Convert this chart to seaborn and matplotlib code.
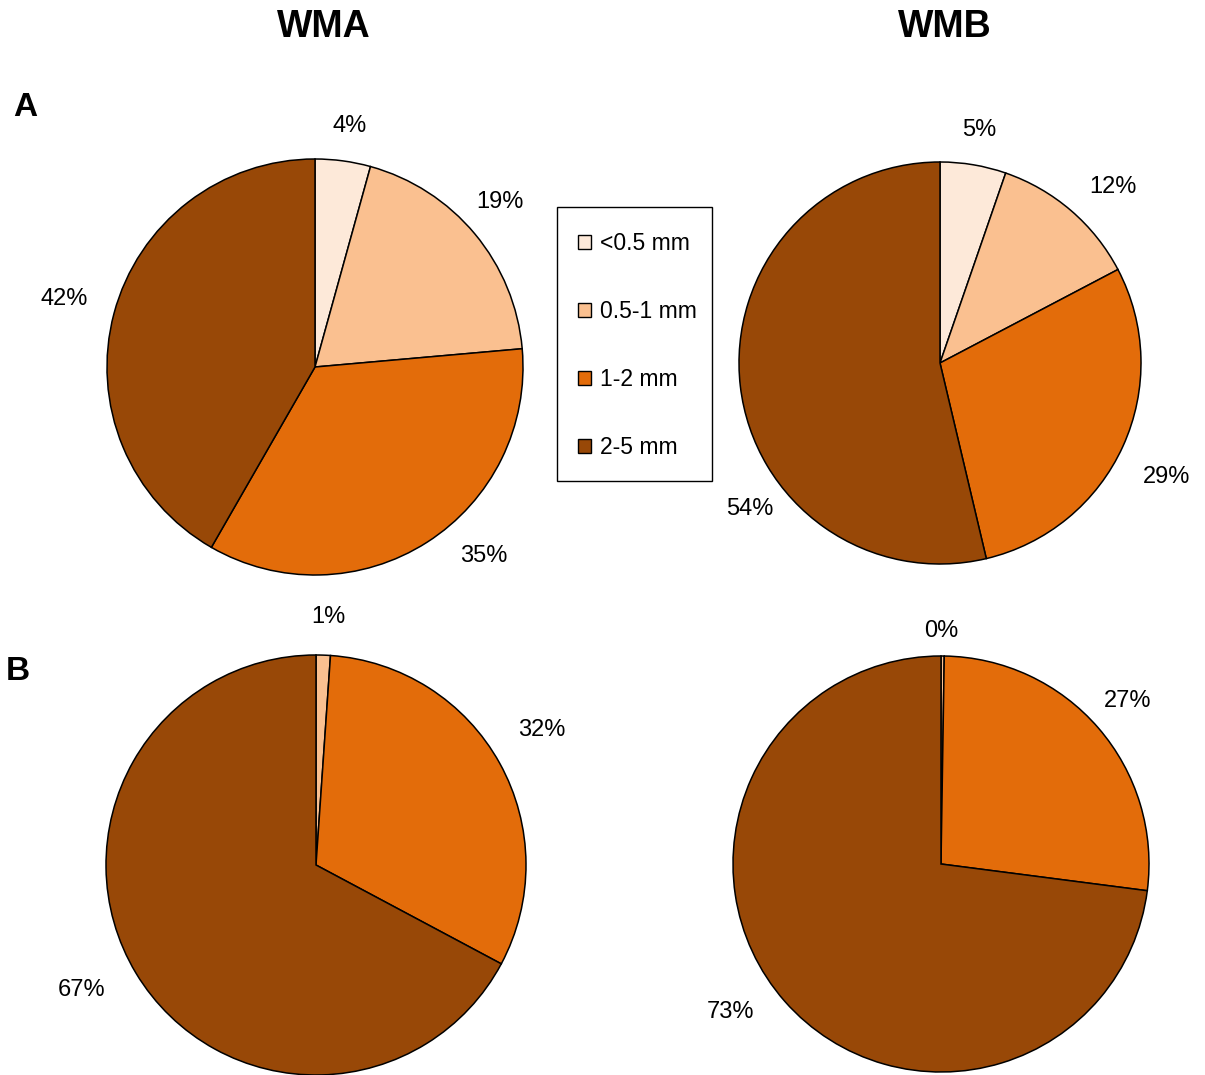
import matplotlib
matplotlib.use("Agg")
import matplotlib.pyplot as plt
from matplotlib.patches import Patch, Rectangle
import seaborn as sns

sns.set_theme(style="white")
plt.rcParams["font.family"] = ["Liberation Sans", "DejaVu Sans"]
plt.rcParams["text.color"] = "black"

# Size classes and their fill colours
classes = ["<0.5 mm", "0.5-1 mm", "1-2 mm", "2-5 mm"]
colors = ["#FDE9D9", "#FAC090", "#E36C0A", "#984807"]

# Percentage share of each size class
wma_a = [4.3, 19.3, 34.7, 41.7]
wmb_a = [5.3, 12.0, 29.0, 53.7]
wma_b = [0.0, 1.1, 31.7, 67.2]
wmb_b = [0.0, 0.25, 26.8, 72.95]

column_titles = ["WMA", "WMB"]
row_titles = ["A", "B"]

W, H = 1205, 1075
fig = plt.figure(figsize=(W / 100, H / 100), dpi=100)

# pie centre (px) and radius (px), plus label offsets in radius units
panels = [
    (wma_a, (315, 367), 208,
     [(0.168, 1.159), (0.889, 0.793), (0.813, -0.909), (-1.207, 0.327)]),
    (wmb_a, (940, 363), 201,
     [(0.194, 1.159), (0.861, 0.876), (1.129, -0.567), (-0.945, -0.726)]),
    (wma_b, (316, 865), 210,
     [None, (0.057, 1.181), (1.076, 0.643), (-1.114, -0.595)]),
    (wmb_b, (941, 864), 208,
     [None, (0.0, 1.12), (0.899, 0.784), (-1.014, -0.712)]),
]

for values, (cx, cy), r, label_pos in panels:
    ax = fig.add_axes([(cx - r) / W, (H - cy - r) / H, 2 * r / W, 2 * r / H])
    keep = [i for i, v in enumerate(values) if v > 0]
    ax.pie([values[i] for i in keep], colors=[colors[i] for i in keep],
           startangle=90, counterclock=False, radius=1.0,
           wedgeprops=dict(edgecolor="black", linewidth=1.1))
    ax.set_xlim(-1, 1)
    ax.set_ylim(-1, 1)
    ax.set_aspect("equal")
    ax.axis("off")
    for i in keep:
        lx, ly = label_pos[i]
        ax.text(lx, ly, f"{round(values[i])}%", ha="center", va="center",
                fontsize=17, color="black", clip_on=False)

# Column and row headings
fig.text(324 / W, 1 - 27 / H, column_titles[0], ha="center", va="center",
         fontsize=27, fontweight="bold", color="black")
fig.text(945 / W, 1 - 27 / H, column_titles[1], ha="center", va="center",
         fontsize=27, fontweight="bold", color="black")
fig.text(25 / W, 1 - 108 / H, row_titles[0], ha="center", va="center",
         fontsize=24, fontweight="bold", color="black")
fig.text(18 / W, 1 - 672 / H, row_titles[1], ha="center", va="center",
         fontsize=24, fontweight="bold", color="black")

# Legend box between the two top pies
fig.patches.append(Rectangle((557 / W, 1 - 481 / H), 155 / W, 274 / H,
                             transform=fig.transFigure, facecolor="white",
                             edgecolor="black", linewidth=1.0, zorder=2))
handles = [Patch(facecolor=c, edgecolor="black", linewidth=1.0) for c in colors]
leg = fig.legend(handles, classes, loc="upper left",
                 bbox_to_anchor=(578 / W, 1 - 232 / H), borderaxespad=0,
                 fontsize=16.5, frameon=False,
                 handlelength=0.55, handleheight=0.55, handletextpad=0.4,
                 labelspacing=1.96, borderpad=0.0)
leg.set_zorder(3)
for t in leg.get_texts():
    t.set_color("black")

fig.savefig("out.png", dpi=100, facecolor="white")
